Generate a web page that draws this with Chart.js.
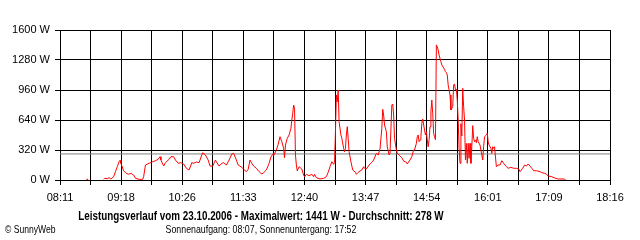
<!DOCTYPE html>
<html>
<head>
<meta charset="utf-8">
<script src="https://cdn.jsdelivr.net/npm/chart.js@4.4.1/dist/chart.umd.min.js"></script>
<style>
  html, body { margin: 0; padding: 0; background: #fff; }
  #wrap { position: relative; width: 640px; height: 240px; overflow: hidden; font-family: "Liberation Sans", Arial, sans-serif; color: #000; }
  #c { position: absolute; left: 0; top: 0; }
  .txt { position: absolute; white-space: nowrap; font-size: 11px; line-height: 13px; }
  #title { left: 0; width: 522px; text-align: center; top: 210px; font-weight: bold; font-size: 12px; transform: scaleX(0.82); transform-origin: 261px 0; }
  #sub { left: 0; width: 522px; text-align: center; top: 223px; transform: scaleX(0.8); transform-origin: 261px 0; }
  #copy { left: 5px; top: 223px; transform: scaleX(0.78); transform-origin: 0 0; }
</style>
</head>
<body>
<div id="wrap">
  <canvas id="c" width="640" height="240"></canvas>
  <div class="txt" id="title">Leistungsverlauf vom 23.10.2006 - Maximalwert: 1441 W - Durchschnitt: 278 W</div>
  <div class="txt" id="sub">Sonnenaufgang: 08:07, Sonnenuntergang: 17:52</div>
  <div class="txt" id="copy">© SunnyWeb</div>
</div>
<script>
// ---- data ----
const times = [
  "08:40","08:42","08:50","08:59","09:00","09:03","09:05","09:07","09:10","09:12","09:14","09:16","09:17","09:18","09:21","09:23","09:26","09:29","09:32","09:34","09:38","09:42","09:43","09:45","09:49","09:53","09:56","09:59",
  "10:01","10:02","10:05","10:07","10:11","10:13","10:16","10:18","10:21","10:24","10:27","10:30","10:33","10:36","10:38","10:41","10:44","10:47","10:48","10:51","10:54","10:56","10:59",
  "11:02","11:03","11:06","11:09","11:11","11:14","11:17","11:20","11:22","11:25","11:27","11:31","11:33","11:36","11:38","11:40","11:42","11:44","11:47","11:50","11:53","11:55","11:58",
  "12:01","12:03","12:05","12:06","12:09","12:11","12:13","12:15","12:17","12:18","12:19","12:21","12:23","12:25","12:26","12:27","12:28","12:29","12:30","12:31","12:32","12:34","12:37","12:39","12:40","12:42","12:45","12:48","12:50","12:51","12:53","12:57",
  "13:01","13:04","13:06","13:08","13:10","13:12","13:13","13:14","13:15","13:16","13:17","13:18","13:20","13:21","13:23","13:24","13:25","13:26","13:27","13:28","13:29","13:31","13:33","13:36","13:37","13:39","13:41","13:43","13:45","13:46","13:48","13:51","13:54","13:56","13:59",
  "14:01","14:03","14:05","14:06","14:07","14:08","14:10","14:11","14:13","14:14","14:16","14:17","14:18","14:19","14:21","14:22","14:24","14:27","14:29","14:32","14:33","14:36","14:38","14:40","14:41","14:43","14:44","14:45","14:46","14:47","14:48","14:49","14:50","14:52","14:53","14:54","14:55","14:56","14:57","14:58","14:59",
  "15:00","15:01","15:02","15:03","15:04","15:05","15:06","15:07","15:08","15:10","15:11","15:14","15:15","15:16","15:17","15:18","15:20","15:21","15:23","15:24","15:25","15:26","15:27","15:28","15:29","15:30","15:31","15:32","15:33","15:34","15:35","15:36","15:37","15:38","15:39","15:40","15:41","15:42","15:43","15:44","15:45","15:46","15:47","15:48","15:49","15:50","15:51","15:53","15:55","15:56","15:57","15:58",
  "16:00","16:01","16:02","16:03","16:05","16:06","16:07","16:08","16:09","16:11","16:13","16:15","16:17","16:19","16:22","16:24","16:27","16:30","16:33","16:36","16:37","16:40","16:42","16:44","16:46","16:48","16:50","16:52","16:55","16:59",
  "17:01","17:04","17:06","17:08","17:12","17:16","17:19","17:26","17:27"
];
const watts = [
  7,7,null,7,18,14,25,11,35,89,142,195,210,178,99,78,61,71,53,18,7,7,35,160,178,195,206,221,
  249,213,149,185,221,249,249,213,178,185,171,125,107,185,178,192,185,267,291,267,213,149,149,
  213,195,149,178,185,160,213,277,285,213,160,135,114,89,114,213,178,149,125,89,64,78,107,
  178,245,274,259,320,381,462,409,338,238,373,445,480,551,640,711,800,765,267,160,96,142,117,53,35,61,46,61,35,61,25,11,
  18,35,82,142,195,167,187,515,907,835,960,622,480,445,338,302,338,480,569,445,302,195,107,82,61,82,96,107,142,125,117,160,189,213,285,
  267,331,551,754,693,587,515,355,267,285,800,811,693,445,320,285,267,238,203,189,171,213,249,320,320,391,462,480,409,427,462,605,650,533,480,515,427,355,427,569,729,
  853,711,498,462,430,1441,1422,1387,1333,1262,1227,1181,1155,1145,1120,1013,907,747,782,1013,1025,960,970,853,640,338,178,600,470,978,782,640,213,390,178,391,231,391,178,355,580,445,409,427,398,462,409,373,267,213,355,462,
  480,498,409,373,338,285,355,338,355,142,160,160,206,178,142,125,135,125,125,114,89,125,160,149,171,149,125,99,99,89,
  78,71,64,43,35,18,11,11,0
];
const averageWatts = 278;
const axisStart = "08:11";
const axisEnd = "18:16";
const xTickLabels = ["08:11","09:18","10:26","11:33","12:40","13:47","14:54","16:01","17:09","18:16"];
const yMax = 1600;
const yStep = 320;

// ---- helpers ----
const toMin = s => { const [h, m] = s.split(":").map(Number); return h * 60 + m; };
const xMin = toMin(axisStart), xMax = toMin(axisEnd);
const powerPts = times.map((t, i) => ({ x: toMin(t), y: watts[i] }));
const avgPts = [{ x: xMin, y: averageWatts }, { x: xMax, y: averageWatts }];
const gridCount = (xTickLabels.length - 1) * 2;

Chart.defaults.font.family = '"Liberation Sans", Arial, sans-serif';
Chart.defaults.font.size = 11;
Chart.defaults.color = '#000';

new Chart(document.getElementById('c'), {
  type: 'line',
  data: {
    datasets: [
      { data: powerPts, borderColor: '#ff0000', borderWidth: 1, pointRadius: 0, tension: 0, spanGaps: false, fill: false },
      { data: avgPts, borderColor: '#808080', borderWidth: 1, pointRadius: 0, tension: 0, fill: false }
    ]
  },
  options: {
    responsive: false,
    animation: false,
    events: [],
    layout: { padding: { left: 0, right: 30, top: 30, bottom: 0 } },
    plugins: { legend: { display: false }, tooltip: { enabled: false }, title: { display: false } },
    scales: {
      x: {
        type: 'linear', min: xMin, max: xMax,
        afterBuildTicks: s => {
          const t = [];
          for (let i = 0; i <= gridCount; i++) t.push({ value: xMin + (xMax - xMin) * i / gridCount });
          s.ticks = t;
        },
        afterFit: s => { s.height = 60; },
        ticks: {
          autoSkip: false, maxRotation: 0, minRotation: 0, padding: 6,
          callback: (v, i) => (i % 2 === 0 ? xTickLabels[i / 2] : '')
        },
        grid: { color: '#000', lineWidth: 1, tickLength: 5, drawTicks: true },
        border: { display: true, color: '#000', width: 1 }
      },
      y: {
        min: 0, max: yMax,
        afterFit: s => { s.width = 60; },
        ticks: { stepSize: yStep, padding: 5, callback: v => v + ' W' },
        grid: { color: '#000', lineWidth: 1, tickLength: 5 },
        border: { display: true, color: '#000', width: 1 }
      }
    }
  }
});
</script>
</body>
</html>
